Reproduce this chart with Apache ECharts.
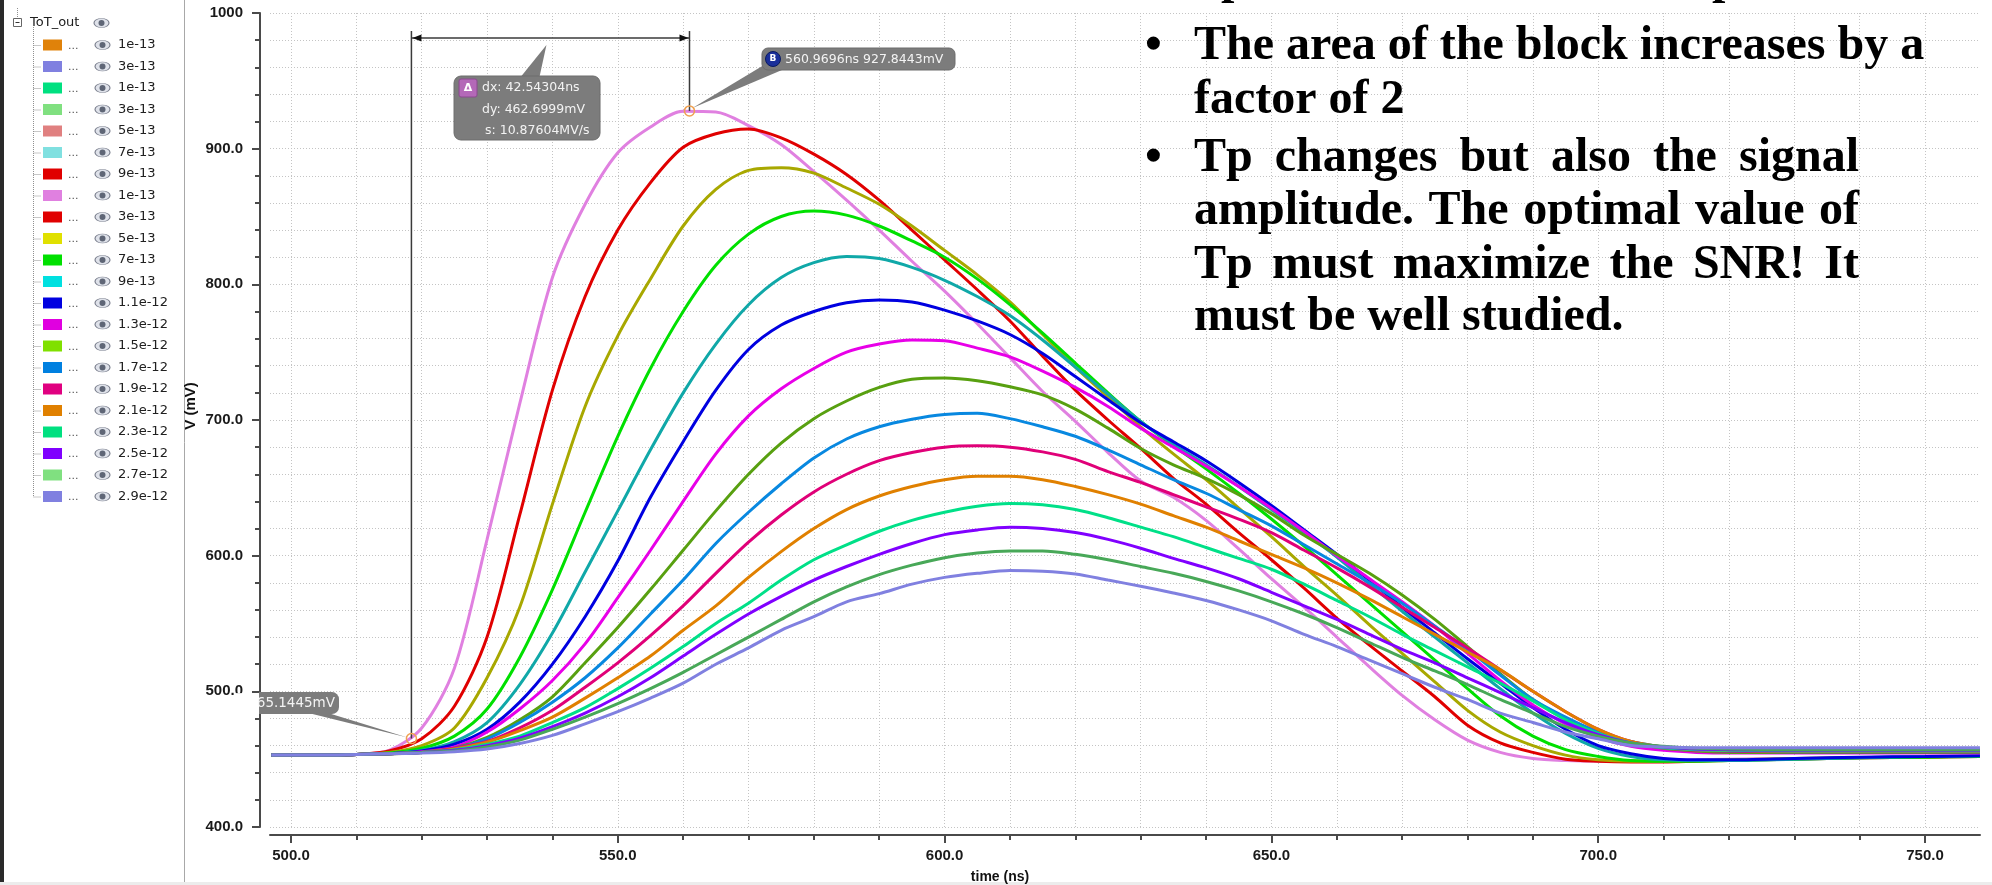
<!DOCTYPE html>
<html>
<head>
<meta charset="utf-8">
<script src="https://cdn.jsdelivr.net/npm/echarts@6/dist/echarts.min.js"></script>
<style>html,body{margin:0;padding:0;background:#fff;}#chart{width:1992px;height:885px;}</style>
</head>
<body>
<div id="chart"></div>
<script>
// ---------------- data ----------------
const timeNs = [497,505,510,515,520,525,530,535,540,545,550,555,560,565,570,575,580,585,590,595,600,605,610,615,620,625,630,635,640,645,650,655,660,665,670,675,680,685,690,695,700,705,710,715,720,730,740,750,758.4];

const v_1e13  = [453,453, 453.5,456.5,473,517,612,712,805,859,897,916, 927.5,927,917,903,883,862,840,817,795,771, 746,721,699,676,655,643,626,605,583,562, 540,518,497,479,464,455,450.5,449,448.5,448.5, 449,449.5,450, 450.5,451,451.5,452];
const v_3e13  = [453,453, 453.5,456,465,489,540,630,722,791,840,875, 901,911,914.5,908,896,881,862,840,818,796, 773,747,722,700,679,657,638,617,597,576, 554,534,515,496,475,462,455,450,448.5,448, 448,448.5,449, 450,451,451.5,452];
const v_5e13  = [453,453, 453.5,455,460,473,510,562,638,710,762,804, 843,870,884,886,882,871,859,843,825,807, 787,763,739,717,695,675,656,635,614,592, 571,549,528,507,486,470,460,453,449.5,448.5, 448.5,449,449.5, 450.5,451,451.5,452];
const v_7e13  = [453,453, 453.5,454.5,458,467,487,525,575,632,688,738, 780,814,837,850,854,851,843,832,820,804, 785,764,742,720,699,681,664,646,627,607, 586,565,544,523,502,482,467,457,452,449, 448.5,448.5,449, 450,451,451.5,452];
const v_9e13  = [453,453, 453.5,454,456.5,463,477,505,543,588,633,678, 720,756,785,805,816,820.5,819,812.5,803,791, 777,759,739,719,699,682,667,651,634,617, 599,579,559,540,521,502,484,469,458,452, 449.5,449,449, 450,451,452,452.5];
const v_11e13 = [453,453, 453.5,454,456,461,472,492,520,555,596,643, 684,722,752,770,780,786.5,788.5,787,781,773, 763,749,732,715,698,684,670,654,637,619, 601,582,562,543,524,506,488,472,460,454, 450.5,449.5,449.5, 450.5,451.5,452,452.5];
const v_13e13 = [453,453, 453.5,454,455.5,459,470,487,508,535,569,604, 640,675,703,723,738,750,756,759,758.5,753, 746.5,736,724,710,694,680,666,651,635,618, 600,583,566,548,528,508,490,476,466,459.5, 456.5,455,454.5, 454.5,454.5,454.5,454.5];
const v_15e13 = [453,453, 453.5,454,455,458,466,479,496,521,547,575, 604,633,660,683,701,714,724,730,731,729, 724.5,718.5,708,694,679,667,657,645,631,615, 601,587,571,553,533,513,494,480,470,462, 458,456,455, 455,455,455,455];
const v_17e13 = [453,453, 453.5,454,455,458,465,477,492,510,532,557, 582,609,632,653,672,686,695,700.5,704,705, 701,695,688,678,667,656,646,634,622,608, 594,580,565,548,531,512,494,481,470,463, 459,457,456, 455.5,455.5,455.5,455.5];
const v_19e13 = [453,453, 453.5,454,455,458,463,473,486,503,521,541, 563,587,610,630,647,660,670,676,680,681, 680,676.5,671,662,654,645,636,627,617,604, 591,577,562,547,532,516,500,485,472,463, 458.5,456.5,456, 455.5,455.5,455.5,455.5];
const v_21e13 = [453,453, 453.5,454,455,457.5,462.5,471,481,495,510,526, 545,563,584,603,620,634,644,651,656,658.5, 658.5,656,651,645,638,629.5,621,611,601,591, 580,568,555,542,529,516,500,485,472,463, 459,457,456.5, 456,456,456,456];
const v_23e13 = [453,453, 453.5,454,455,457,461,467,477,488,502,517, 533,550,565,582,597,608,618,626,632,636.5, 638.5,637.5,634,628,621,614,606,598,590,579, 567,555,542,530,518,506,493,479,469,462, 458.5,457,456.5, 456,456,456,456];
const v_25e13 = [453,453, 453.5,454,455,456.5,460,465.5,474,484,496,510, 526,542,557,570,582,592,601,609,615.5,619, 621,620,617,612,605.5,598,591,583,573,563, 553,542,531,521,510,499,488,477,468,462, 459,457.5,457, 456.5,456.5,456.5,456.5];
const v_27e13 = [453,453, 453.5,454,455,456,459,464,472,481,491,502, 514,527,540,553,566,577,586,593,598.5,602, 603.5,603.5,601,597,592,587,581,574,566,557, 547,536,525,515,505,494,484,474,467,462, 459.5,458,457.5, 457,457,457,457];
const v_29e13 = [453,453, 453.5,454,454.5,455.5,457.5,461.5,467.5,476,485,495, 506,520,532,545,555,566,572,579,584,587, 589,588.5,586.5,582,577.5,572.5,567,560,552,542, 533,523,513,503,494,484,477,470,465,460, 459,458.5,458.5, 458.5,458.5,458.5,458.5];

const curveNames  = ['1e-13','3e-13','5e-13','7e-13','9e-13','1.1e-12','1.3e-12','1.5e-12','1.7e-12','1.9e-12','2.1e-12','2.3e-12','2.5e-12','2.7e-12','2.9e-12'];
const curveValues = [v_1e13,v_3e13,v_5e13,v_7e13,v_9e13,v_11e13,v_13e13,v_15e13,v_17e13,v_19e13,v_21e13,v_23e13,v_25e13,v_27e13,v_29e13];
const curveColors = ['#e080e0','#e00000','#a8a800','#00e000','#10a8a8','#0000e0','#e800e8','#58a010','#0888e0','#e00078','#e08000','#00e088','#8000ff','#48a858','#8080e0'];

const legendLabels   = ['1e-13','3e-13','1e-13','3e-13','5e-13','7e-13','9e-13','1e-13','3e-13','5e-13','7e-13','9e-13','1.1e-12','1.3e-12','1.5e-12','1.7e-12','1.9e-12','2.1e-12','2.3e-12','2.5e-12','2.7e-12','2.9e-12'];
const legendSwatches = ['#e0820a','#8080e0','#00e080','#80e080','#e08080','#80e0e0','#e00000','#e080e0','#e00000','#e0e000','#00e000','#00e0e0','#0000e0','#e000e0','#80e000','#0080e0','#e00080','#e08000','#00e080','#8000ff','#80e080','#8080e0'];
const legendTitle = 'ToT_out';

const xTickValues  = [500,510,520,530,540,550,560,570,580,590,600,610,620,630,640,650,660,670,680,690,700,710,720,730,740,750];
const xLabelValues = [500,550,600,650,700,750];

const markerA = [518.4266, 465.1445];
const markerB = [560.9696, 927.8443];
const markerAText = '465.1445mV';
const markerBText = '560.9696ns 927.8443mV';
const deltaTexts = ['dx: 42.54304ns','dy: 462.6999mV','s: 10.87604MV/s'];

const noteLines = [
  {bullet:true,  text:'The area of the block increases by a', justify:false},
  {bullet:false, text:'factor of 2', justify:false},
  {bullet:true,  text:'Tp changes but also the signal', justify:true},
  {bullet:false, text:'amplitude. The optimal value of', justify:true},
  {bullet:false, text:'Tp must maximize the SNR! It', justify:true},
  {bullet:false, text:'must be well studied.', justify:false}
];
const noteBaselines = [63,117,175,228,282,334];

// ---------------- chart ----------------
const chart = echarts.init(document.getElementById('chart'), null, {renderer:'canvas'});
const AX = '#4a4a4a';
const GRIDC = '#c4c4c4';
const labelFont = {fontFamily:'Liberation Sans', fontWeight:'bold', fontSize:15, color:'#1a1a1a'};
const XMIN = 496.79, XMAX = 758.41;

const option = {
  animation:false,
  backgroundColor:'#ffffff',
  grid:{left:270, right:12, top:13, bottom:58, containLabel:false},
  xAxis:[{
    type:'value', min:XMIN, max:XMAX, position:'bottom', offset:8,
    axisLine:{show:true, onZero:false, lineStyle:{color:AX, width:2}},
    axisTick:{show:true, customValues:xTickValues, length:5, lineStyle:{color:AX, width:2}},
    axisLabel:{show:false},
    splitLine:{show:true, lineStyle:{color:GRIDC, width:1, type:[1,2]}}
  },{
    type:'value', min:XMIN, max:XMAX, position:'bottom', offset:8,
    axisLine:{show:false, onZero:false},
    axisTick:{show:true, customValues:xLabelValues, length:8, lineStyle:{color:AX, width:2}},
    axisLabel:Object.assign({show:true, customValues:xLabelValues, margin:13, formatter:v=>Number(v).toFixed(1)}, labelFont),
    splitLine:{show:false}
  }],
  yAxis:{
    type:'value', min:400, max:1000, interval:100, position:'left', offset:10,
    axisLine:{show:true, onZero:false, lineStyle:{color:AX, width:2}},
    axisTick:{show:true, length:8, lineStyle:{color:AX, width:2}},
    minorTick:{show:true, splitNumber:5, length:5, lineStyle:{color:AX, width:2}},
    axisLabel:Object.assign({margin:17, showMinLabel:true, showMaxLabel:true, formatter:v=> v>=1000 ? String(v) : Number(v).toFixed(1)}, labelFont),
    splitLine:{show:true, lineStyle:{color:GRIDC, width:1, type:[1,2]}},
    minorSplitLine:{show:true, lineStyle:{color:GRIDC, width:1, type:[1,2]}}
  },
  series: curveValues.map((vals,i)=>({
    type:'line', name:curveNames[i], xAxisIndex:0, yAxisIndex:0,
    data: timeNs.map((t,j)=>[t, vals[j]]),
    showSymbol:false, symbol:'none', smooth:0.3, clip:true, z:2,
    lineStyle:{color:curveColors[i], width:3},
    itemStyle:{color:curveColors[i]}
  }))
};
chart.setOption(option);

// ---------------- overlays ----------------
const G = [];
const toPx = p => chart.convertToPixel({xAxisIndex:0, yAxisIndex:0}, p);

G.push({type:'rect', shape:{x:0,y:0,width:4,height:885}, style:{fill:'#2a2a2a'}, z:50});
G.push({type:'line', shape:{x1:184.5,y1:0,x2:184.5,y2:885}, style:{stroke:'#a8a8a8', lineWidth:1}, z:50});
G.push({type:'rect', shape:{x:0,y:882,width:1992,height:3}, style:{fill:'#ececec'}, z:50});

function eye(cx, cy){
  return [
    {type:'circle', x:cx, y:cy, scaleY:0.6, shape:{cx:0,cy:0,r:7.5}, style:{fill:'#dfe2ea', stroke:'#7d8290', lineWidth:1.2}, z:51},
    {type:'circle', x:cx, y:cy, shape:{cx:0,cy:0,r:3}, style:{fill:'#5f6676'}, z:52}
  ];
}
const legFont = {fontFamily:'DejaVu Sans', fontSize:13};
G.push({type:'line', shape:{x1:17.5,y1:8,x2:17.5,y2:18}, style:{stroke:'#909090', lineWidth:1, lineDash:[1,1]}, z:51});
G.push({type:'rect', shape:{x:13.5,y:18.5,width:8,height:8}, style:{fill:'#fff', stroke:'#666', lineWidth:1}, z:51});
G.push({type:'line', shape:{x1:15.5,y1:22.5,x2:19.5,y2:22.5}, style:{stroke:'#333', lineWidth:1}, z:52});
G.push({type:'text', x:30, y:23, style:Object.assign({text:legendTitle, fill:'#202020', align:'left', verticalAlign:'middle'}, legFont), z:51});
G.push(...eye(101.5, 23));
G.push({type:'line', shape:{x1:33.5,y1:27,x2:33.5,y2:45+21.5*(legendLabels.length-1)}, style:{stroke:'#909090', lineWidth:1, lineDash:[1,1]}, z:51});
legendLabels.forEach((lab,k)=>{
  const y = 45 + 21.5*k;
  G.push({type:'line', shape:{x1:33.5,y1:y+0.5,x2:41,y2:y+0.5}, style:{stroke:'#909090', lineWidth:1, lineDash:[1,1]}, z:51});
  G.push({type:'rect', shape:{x:43,y:y-5.5,width:19,height:11}, style:{fill:legendSwatches[k]}, z:51});
  G.push({type:'text', x:68, y:y+1, style:{text:'...', fill:'#555', fontFamily:'DejaVu Sans', fontSize:11, align:'left', verticalAlign:'middle'}, z:51});
  G.push(...eye(102.5, y));
  G.push({type:'text', x:118, y:y, style:Object.assign({text:lab, fill:'#202020', align:'left', verticalAlign:'middle'}, legFont), z:51});
});

G.push({type:'text', x:191, y:406, rotation:Math.PI/2, style:{text:'V (mV)', fill:'#111', fontFamily:'Liberation Sans', fontWeight:'bold', fontSize:15, align:'center', verticalAlign:'middle'}, z:51});
G.push({type:'text', x:1000, y:877, style:{text:'time (ns)', fill:'#111', fontFamily:'Liberation Sans', fontWeight:'bold', fontSize:14, align:'center', verticalAlign:'middle'}, z:51});

const pA = toPx(markerA), pB = toPx(markerB);
const yLine = toPx([XMIN, 981.5])[1];
const yTop = toPx([XMIN, 986.7])[1];
const DK = '#3a3a3a';
const BOXC = '#7c7c7c';
const annFont = {fontFamily:'DejaVu Sans', fontSize:12.5};
G.push({type:'line', shape:{x1:pA[0],y1:yTop,x2:pA[0],y2:pA[1]}, style:{stroke:DK, lineWidth:1.5}, z:60});
G.push({type:'line', shape:{x1:pB[0],y1:yTop,x2:pB[0],y2:pB[1]}, style:{stroke:DK, lineWidth:1.5}, z:60});
G.push({type:'line', shape:{x1:pA[0],y1:yLine,x2:pB[0],y2:yLine}, style:{stroke:DK, lineWidth:1.5}, z:60});
G.push({type:'polygon', shape:{points:[[pA[0]+1,yLine],[pA[0]+10,yLine-3.5],[pA[0]+10,yLine+3.5]]}, style:{fill:'#111'}, z:61});
G.push({type:'polygon', shape:{points:[[pB[0]-1,yLine],[pB[0]-10,yLine-3.5],[pB[0]-10,yLine+3.5]]}, style:{fill:'#111'}, z:61});

const midX = (pA[0]+pB[0])/2;
const bx = pA[0]+42.6, by = 76;
G.push({type:'polygon', shape:{points:[[bx+65,by+3],[bx+85,by+3],[midX-4,yLine+7]]}, style:{fill:BOXC}, z:62});
G.push({type:'rect', shape:{x:bx,y:by,width:146,height:64,r:7}, style:{fill:BOXC, stroke:'#6c6c6c', lineWidth:1}, z:62});
G.push({type:'rect', shape:{x:bx+5,y:by+3,width:18,height:18,r:2}, style:{fill:'#b468b8', stroke:'#8a4a8e', lineWidth:1}, z:63});
G.push({type:'text', x:bx+14, y:by+12, style:{text:'Δ', fill:'#fff', fontFamily:'DejaVu Sans', fontSize:11, fontWeight:'bold', align:'center', verticalAlign:'middle'}, z:64});
deltaTexts.forEach((t,i)=>{
  G.push({type:'text', x:bx+28+(i===2?3:0), y:by+12+21.5*i, style:Object.assign({text:t, fill:'#f3f3f3', align:'left', verticalAlign:'middle'}, annFont), z:64});
});

const bbx = pB[0]+72.5, bby = 48;
G.push({type:'polygon', shape:{points:[[pB[0]+3,pB[1]-3],[bbx+2,bby+17],[bbx+20,bby+22]]}, style:{fill:BOXC}, z:62});
G.push({type:'rect', shape:{x:bbx,y:bby,width:193,height:22,r:6}, style:{fill:BOXC, stroke:'#6c6c6c', lineWidth:1}, z:62});
G.push({type:'circle', shape:{cx:bbx+11,cy:bby+11,r:7.5}, style:{fill:'#1a2f9a', stroke:'#0a1a60', lineWidth:1}, z:63});
G.push({type:'text', x:bbx+11, y:bby+11, style:{text:'B', fill:'#fff', fontFamily:'DejaVu Sans', fontSize:9, fontWeight:'bold', align:'center', verticalAlign:'middle'}, z:64});
G.push({type:'text', x:bbx+23, y:bby+11.5, style:Object.assign({text:markerBText, fill:'#f3f3f3', align:'left', verticalAlign:'middle'}, annFont), z:64});

// A callout (cut off at the axis)
G.push({type:'polygon', shape:{points:[[pA[0]-105,pA[1]-26],[pA[0]-85,pA[1]-26],[pA[0]-4,pA[1]-1]]}, style:{fill:BOXC}, z:62});
G.push({type:'rect', shape:{x:259,y:pA[1]-46.5,width:80,height:22,r:[0,7,7,0]}, style:{fill:BOXC}, z:62});
G.push({type:'text', x:335, y:pA[1]-35.5, style:{text:markerAText, fill:'#f3f3f3', align:'right', verticalAlign:'middle', fontFamily:'DejaVu Sans', fontSize:13.5}, z:63});
G.push({type:'rect', shape:{x:236,y:pA[1]-45.5,width:22.5,height:20}, style:{fill:'#fff'}, z:64});

G.push({type:'circle', shape:{cx:pA[0],cy:pA[1],r:5}, style:{fill:'none', stroke:'#f0a050', lineWidth:1.5}, z:65});
G.push({type:'circle', shape:{cx:pB[0],cy:pB[1],r:5}, style:{fill:'none', stroke:'#f0a050', lineWidth:1.5}, z:65});

// slide text
const NOTE_FONT = 'bold 48px "Liberation Serif"';
const mctx = document.createElement('canvas').getContext('2d');
mctx.font = NOTE_FONT;
const noteStyle = {fill:'#000', fontFamily:'Liberation Serif', fontWeight:'bold', fontSize:48, align:'left', verticalAlign:'middle'};
const BOFF = 16;
function noteText(t, x, base){ return {type:'text', x:x, y:base-BOFF, style:Object.assign({text:t}, noteStyle), z:70}; }
const TX0 = 1194, TX1 = 1859;
G.push(noteText('p', 1221, -3));
G.push(noteText('p', 1712, -3));
noteLines.forEach((ln,i)=>{
  const base = noteBaselines[i];
  if (ln.bullet) G.push(noteText('•', 1145, base));
  if (ln.justify) {
    const words = ln.text.split(' ');
    const w = words.map(s=>mctx.measureText(s).width);
    const tot = w.reduce((a,b)=>a+b,0);
    const gap = (TX1-TX0-tot)/(words.length-1);
    let x = TX0;
    words.forEach((s,j)=>{ G.push(noteText(s, x, base)); x += w[j]+gap; });
  } else {
    G.push(noteText(ln.text, TX0, base));
  }
});

chart.setOption({graphic:{elements:G}});
</script>
</body>
</html>
